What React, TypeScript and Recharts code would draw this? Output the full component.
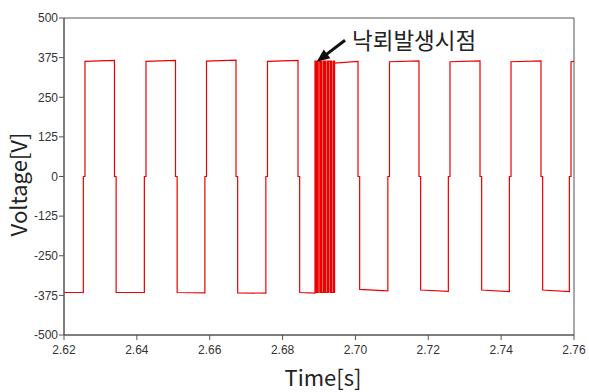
import React from 'react';
import { LineChart, Line, XAxis, YAxis, ReferenceArea, ReferenceLine } from 'recharts';

// Time axis ticks [s] and voltage ticks [V]
const xTicks = [2.62, 2.64, 2.66, 2.68, 2.7, 2.72, 2.74, 2.76];
const yTicks = [-500, -375, -250, -125, 0, 125, 250, 375, 500];

// Positive pulses: start (0 -> +V) and end (+V -> 0) times [s]
const pulseStart = [2.62576, 2.64251, 2.65912, 2.67586, 2.69428, 2.70935, 2.72596, 2.74271, 2.75918];
const pulseEnd = [2.63386, 2.65061, 2.66722, 2.68424, 2.70071, 2.71745, 2.7342, 2.75094, 2.76];
const pulseHighStart = [363, 363, 364, 363, 358, 362, 362, 362, 362];
const pulseHighEnd = [366, 366, 367, 366, 363, 365, 365, 365, 363];

// Negative level between pulses (after pulse i): start and end values
const initialLow = -366;
const lowStart = [-366, -366, -367, -366, -356, -358, -358, -358];
const lowEnd = [-366, -367, -368, -368, -361, -362, -363, -363];

// Dead-time zero step duration [s]
const deadTime = 0.00045;

// Lightning strike: rapid switching instants [s] and levels [V]
const strikePulseIndex = 4;
const strikeTimes = [
  2.6889, 2.68912, 2.68934, 2.68956, 2.68978, 2.69022, 2.69044, 2.69066, 2.6911, 2.69132, 2.69154,
  2.69176, 2.6922, 2.69242, 2.69264, 2.69307, 2.69329, 2.69351, 2.69395, 2.69417, 2.69428,
];
const strikeHigh = 364;
const strikeLow = -366;

// Annotation: arrow tail and tip (time, voltage)
const annotationText = '낙뢰발생시점';
const arrowTail = { x: 2.69714, y: 430 };
const arrowTip = { x: 2.68937, y: 362 };

type Pt = { t: number; v: number };

function buildWave(): Pt[] {
  const pts: Pt[] = [{ t: 2.62, v: initialLow }];
  for (let i = 0; i < pulseStart.length; i++) {
    const prevLowEnd = i === 0 ? initialLow : lowEnd[i - 1];
    if (i === strikePulseIndex) {
      pts.push({ t: strikeTimes[0], v: prevLowEnd });
      strikeTimes.forEach((st, k) => {
        const from = k % 2 === 0 ? strikeLow : strikeHigh;
        const to = k % 2 === 0 ? strikeHigh : strikeLow;
        if (k > 0) pts.push({ t: st, v: from });
        pts.push({ t: st, v: to });
      });
      pts.push({ t: pulseStart[i], v: pulseHighStart[i] });
    } else {
      const r = pulseStart[i];
      pts.push({ t: r - deadTime, v: prevLowEnd });
      pts.push({ t: r - deadTime, v: 0 });
      pts.push({ t: r, v: 0 });
      pts.push({ t: r, v: pulseHighStart[i] });
    }
    const f = pulseEnd[i];
    pts.push({ t: f, v: pulseHighEnd[i] });
    if (i < lowStart.length) {
      pts.push({ t: f, v: 0 });
      pts.push({ t: f + deadTime, v: 0 });
      pts.push({ t: f + deadTime, v: lowStart[i] });
    }
  }
  return pts;
}

const data = buildWave();

const ArrowShape = (props: any) => {
  const { x1, y1, x2, y2 } = props;
  const dx = x2 - x1;
  const dy = y2 - y1;
  const len = Math.sqrt(dx * dx + dy * dy) || 1;
  const ux = dx / len;
  const uy = dy / len;
  const head = 13;
  const half = 5.5;
  const bx = x2 - ux * head;
  const by = y2 - uy * head;
  const px = -uy;
  const py = ux;
  return (
    <g>
      <line x1={x1} y1={y1} x2={bx + ux * 2} y2={by + uy * 2} stroke="#111" strokeWidth={3} />
      <polygon
        points={`${x2},${y2} ${bx + px * half},${by + py * half} ${bx - px * half},${by - py * half}`}
        fill="#111"
      />
      <text
        x={x1 + 7}
        y={y1 + 9}
        fontFamily="'Noto Sans CJK KR', sans-serif"
        fontSize={22.5}
        fill="#222"
      >
        {annotationText}
      </text>
    </g>
  );
};

const YLabel = (props: any) => {
  const vb = props.viewBox || {};
  const cx = vb.x + 17;
  const cy = vb.y + vb.height / 2 + 8;
  return (
    <text
      x={cx}
      y={cy}
      transform={`rotate(-90, ${cx}, ${cy})`}
      textAnchor="middle"
      dominantBaseline="central"
      fontFamily="'Noto Sans CJK KR', sans-serif"
      fontSize={22}
      fill="#222"
    >
      Voltage[V]
    </text>
  );
};

const XLabel = (props: any) => {
  const vb = props.viewBox || {};
  const cx = vb.x + vb.width / 2 + 4;
  const cy = vb.y + vb.height - 6;
  return (
    <text
      x={cx}
      y={cy}
      textAnchor="middle"
      fontFamily="'Noto Sans CJK KR', sans-serif"
      fontSize={22}
      fill="#222"
    >
      Time[s]
    </text>
  );
};

const tickStyle = { fontFamily: "'Liberation Sans', Arial, sans-serif", fontSize: 12, fill: '#333' };

export default function App() {
  return (
    <div style={{ position: 'absolute', left: 0, top: 0, width: 589, height: 392, background: '#fff' }}>
      <LineChart width={589} height={392} data={data} margin={{ top: 18, right: 15, left: 0, bottom: 0 }}>
        <XAxis
          dataKey="t"
          type="number"
          domain={[2.62, 2.76]}
          ticks={xTicks}
          tickFormatter={(v: number) => v.toFixed(2)}
          height={57}
          tickSize={5}
          tickMargin={5}
          stroke="#555"
          tick={tickStyle}
          allowDataOverflow
          label={<XLabel />}
        />
        <YAxis
          type="number"
          domain={[-500, 500]}
          ticks={yTicks}
          width={64}
          tickSize={5}
          tickMargin={1}
          stroke="#555"
          tick={tickStyle}
          allowDataOverflow
          label={<YLabel />}
        />
        <ReferenceArea x1={2.62} x2={2.76} y1={-500} y2={500} fill="none" stroke="#555" strokeWidth={1} />
        <Line
          type="linear"
          dataKey="v"
          stroke="#ee0000"
          strokeWidth={1.2}
          dot={false}
          activeDot={false}
          isAnimationActive={false}
        />
        <ReferenceLine
          segment={[arrowTail, arrowTip]}
          shape={ArrowShape}
          ifOverflow="visible"
        />
      </LineChart>
    </div>
  );
}
